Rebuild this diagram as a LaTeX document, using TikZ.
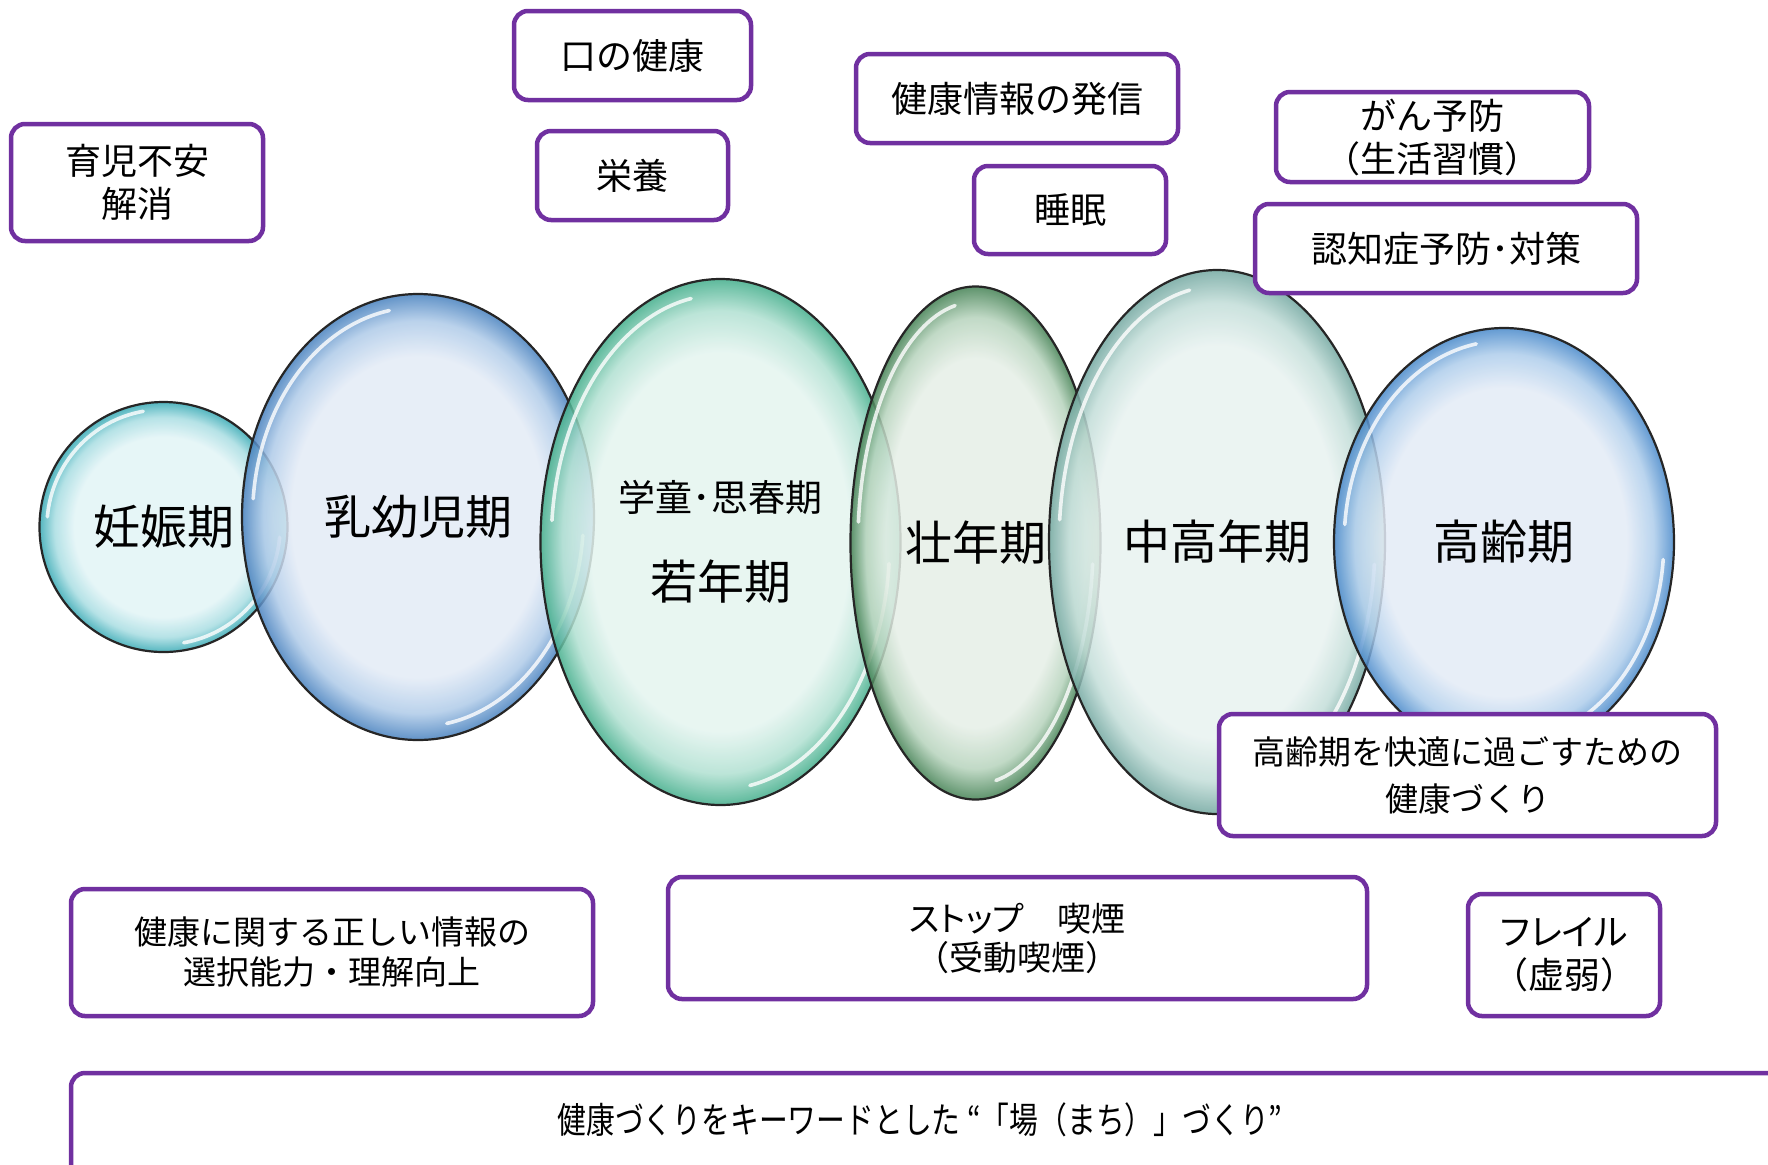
\documentclass[tikz,border=0pt]{standalone}
\usepackage{fontspec}
\usepackage{graphicx}
\setmainfont{Noto Sans CJK JP}
\usetikzlibrary{shapes.geometric}
\definecolor{boxpurple}{HTML}{7030A0}
\definecolor{cyC}{HTML}{E2F4F6}\definecolor{cyM}{HTML}{A8DDE2}\definecolor{cyR}{HTML}{36A9B4}
\definecolor{b1C}{HTML}{E3EBF6}\definecolor{b1M}{HTML}{AECAE8}\definecolor{b1R}{HTML}{4680BE}
\definecolor{tlC}{HTML}{E4F4EF}\definecolor{tlM}{HTML}{B0E0D1}\definecolor{tlR}{HTML}{41AD8A}
\definecolor{grC}{HTML}{E5EEE6}\definecolor{grM}{HTML}{B6D3BC}\definecolor{grR}{HTML}{428052}
\definecolor{gtC}{HTML}{E8F2F0}\definecolor{gtM}{HTML}{C2DDD8}\definecolor{gtR}{HTML}{72A7A0}
\definecolor{b2C}{HTML}{E3EBF6}\definecolor{b2M}{HTML}{AECDEB}\definecolor{b2R}{HTML}{4788CA}
\pgfdeclareradialshading{bubcy}{\pgfpoint{0bp}{0bp}}{color(0bp)=(cyC); color(18bp)=(cyC); color(22bp)=(cyM); color(25bp)=(cyR); color(50bp)=(cyR)}
\pgfdeclareradialshading{bubbA}{\pgfpoint{0bp}{0bp}}{color(0bp)=(b1C); color(18bp)=(b1C); color(22bp)=(b1M); color(25bp)=(b1R); color(50bp)=(b1R)}
\pgfdeclareradialshading{bubtl}{\pgfpoint{0bp}{0bp}}{color(0bp)=(tlC); color(18bp)=(tlC); color(22bp)=(tlM); color(25bp)=(tlR); color(50bp)=(tlR)}
\pgfdeclareradialshading{bubgr}{\pgfpoint{0bp}{0bp}}{color(0bp)=(grC); color(18bp)=(grC); color(22bp)=(grM); color(25bp)=(grR); color(50bp)=(grR)}
\pgfdeclareradialshading{bubgt}{\pgfpoint{0bp}{0bp}}{color(0bp)=(gtC); color(18bp)=(gtC); color(22bp)=(gtM); color(25bp)=(gtR); color(50bp)=(gtR)}
\pgfdeclareradialshading{bubbB}{\pgfpoint{0bp}{0bp}}{color(0bp)=(b2C); color(18bp)=(b2C); color(22bp)=(b2M); color(25bp)=(b2R); color(50bp)=(b2R)}
\newcommand\bubhl[3]{%
  \draw[hl] ([shift={(100:{0.94*#2} and {0.94*#3})}]#1.center) arc[start angle=100, end angle=175, x radius={0.94*#2}, y radius={0.94*#3}];
  \draw[hl] ([shift={(280:{0.94*#2} and {0.94*#3})}]#1.center) arc[start angle=280, end angle=355, x radius={0.94*#2}, y radius={0.94*#3}];}
\begin{document}
\begin{tikzpicture}[x=0.5pt,y=-0.5pt,
  bubble/.style={ellipse, shade, draw=black!85, line width=1.1pt, inner sep=0pt, fill opacity=0.85, text opacity=1, font=\fontsize{23.5pt}{28pt}\selectfont},
  hl/.style={white, line width=1.8pt, opacity=0.8, line cap=round},
  box/.style={draw=boxpurple, line width=2.25pt, rounded corners=7pt, fill=white, align=center, inner sep=0pt, font=\fontsize{18pt}{21.5pt}\selectfont},
  lbl/.style={inner sep=0pt}]
\useasboundingbox (0,0) rectangle (1768,1164);
\clip (0,0) rectangle (1768,1164);

% life-stage bubbles
\node[bubble, shading=bubcy, minimum width=124pt, minimum height=125pt] (e1) at (163.5,527) {妊娠期};
\bubhl{e1}{62pt}{62.5pt}
\node[bubble, shading=bubbA, minimum width=176pt, minimum height=223pt] (e2) at (418,517) {乳幼児期};
\bubhl{e2}{88pt}{111.5pt}
\node[bubble, shading=bubtl, minimum width=180pt, minimum height=263pt] (e3) at (720.5,542) {};
\bubhl{e3}{90pt}{131.5pt}
\node[lbl, font=\fontsize{18.5pt}{22pt}\selectfont] (e3a) at (720.5,497) {学童･思春期};
\node[lbl, font=\fontsize{23.5pt}{28pt}\selectfont] (e3b) at (720.5,582) {若年期};
\node[bubble, shading=bubgr, minimum width=125pt, minimum height=256.5pt] (e4) at (975.5,543) {壮年期};
\bubhl{e4}{62.5pt}{128.25pt}
\node[bubble, shading=bubgt, minimum width=168pt, minimum height=272pt] (e5) at (1217,542) {中高年期};
\bubhl{e5}{84pt}{136pt}
\node[bubble, shading=bubbB, minimum width=170pt, minimum height=214pt] (e6) at (1504,542) {高齢期};
\bubhl{e6}{85pt}{107pt}

% topic boxes
\node[box, minimum width=126pt, minimum height=58.5pt] (b1) at (137,182.5) {育児不安\\解消};
\node[box, minimum width=118.5pt, minimum height=44.5pt] (b2) at (632.5,55.5) {口の健康};
\node[box, minimum width=95.5pt, minimum height=44.5pt] (b3) at (632.5,175.5) {栄養};
\node[box, minimum width=161pt, minimum height=44.5pt] (b4) at (1017,98.5) {健康情報の発信};
\node[box, minimum width=96pt, minimum height=44pt] (b5) at (1070,210) {睡眠};
\node[box, minimum width=156.5pt, minimum height=45pt] (b6) at (1432.5,137) {がん予防\\（生活習慣）};
\node[box, minimum width=191pt, minimum height=44.5pt] (b7) at (1446,248.5) {認知症予防･対策};
\node[box, minimum width=248.5pt, minimum height=61pt, font=\fontsize{16.5pt}{23.5pt}\selectfont] (b8) at (1467.5,775) {高齢期を快適に過ごすための\\健康づくり};
\node[box, minimum width=261pt, minimum height=63.5pt, font=\fontsize{16.5pt}{20pt}\selectfont] (b9) at (332,952.5) {健康に関する正しい情報の\\選択能力・理解向上};
\node[box, minimum width=349.5pt, minimum height=61pt, font=\fontsize{17pt}{19.5pt}\selectfont] (b10) at (1017.5,938) {{\addfontfeature{RawFeature=+palt}ストップ}　喫煙\\（受動喫煙）};
\node[box, minimum width=96pt, minimum height=61pt] (b11) at (1564,955) {{\addfontfeature{RawFeature=+palt}フレイル}\\（虚弱）};
\node[box, minimum width=864.5pt, minimum height=63.5pt] (b12) at (935.5,1136.5) {};
\node[lbl, font=\fontsize{18pt}{21pt}\selectfont] (t12) at (920,1120) {\scalebox{0.8}[1]{健康づくりをキーワードとした “「場（まち）」づくり”}};
\end{tikzpicture}
\end{document}
